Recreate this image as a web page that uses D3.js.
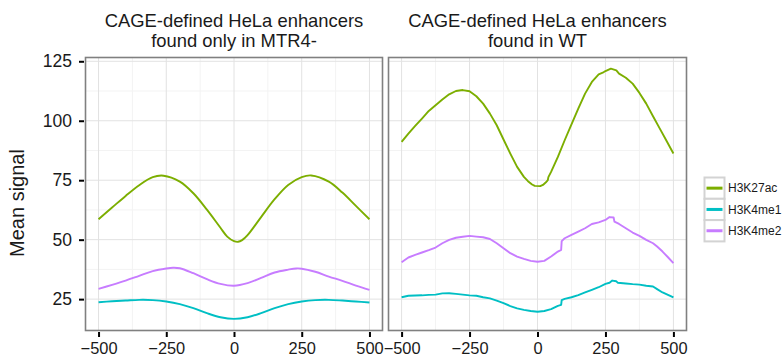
<!DOCTYPE html>
<html>
<head>
<meta charset="utf-8">
<script src="https://cdn.jsdelivr.net/npm/d3@7"></script>
<style>
  body { margin: 0; background: #fff; }
  svg { display: block; }
  text { font-family: "Liberation Sans", Arial, Helvetica, sans-serif; fill: #1a1a1a; }
</style>
</head>
<body>
<svg id="chart" width="782" height="360"></svg>
<script>
// Series and facet labels
const seriesNames = ["H3K27ac", "H3K4me1", "H3K4me2"];
const seriesColors = ["#7CAE00", "#00BFC4", "#C77CFF"];
const facetTitles = [
  ["CAGE-defined HeLa enhancers", "found only in MTR4-"],
  ["CAGE-defined HeLa enhancers", "found in WT"]
];
const xTicks = [-500, -250, 0, 250, 500];
const xMinor = [-375, -125, 125, 375];
const yTicks = [25, 50, 75, 100, 125];
const yMinor = [37.5, 62.5, 87.5, 112.5];

// Mean signal profiles, [position relative to enhancer centre (bp), mean signal]
// Enhancers found only in MTR4-
const h3k27acMtr4 = [[-500,58.6],[-450,63.5],[-400,68.4],[-350,72.9],[-300,76.3],[-260,76.9],[-200,74.4],[-150,69.5],[-100,62.6],[-50,55.0],[-25,51.3],[0,49.4],[15,49.1],[30,49.8],[50,51.9],[100,59.5],[150,67.0],[200,73.0],[250,76.3],[285,77.0],[350,74.4],[400,69.8],[450,64.2],[500,58.6]];
const h3k4me1Mtr4 = [[-500,23.7],[-450,24.1],[-400,24.4],[-350,24.7],[-300,24.6],[-250,24.0],[-200,22.9],[-150,21.2],[-100,19.1],[-50,17.4],[0,16.7],[50,17.4],[100,19.1],[150,21.2],[200,22.9],[250,24.0],[300,24.6],[350,24.7],[400,24.4],[450,24.0],[500,23.6]];
const h3k4me2Mtr4 = [[-500,29.3],[-450,31.0],[-400,32.8],[-350,34.8],[-300,36.8],[-250,37.9],[-225,38.2],[-200,38.0],[-150,35.9],[-100,33.4],[-50,31.4],[0,30.6],[50,31.7],[100,33.9],[150,36.2],[200,37.4],[230,37.9],[250,37.8],[300,36.5],[350,34.5],[400,32.7],[450,30.7],[500,28.9]];

// Enhancers found in WT
const h3k27acWt = [[-500,91.1],[-475,94.6],[-450,97.8],[-425,100.9],[-400,104.1],[-375,106.5],[-350,108.9],[-325,111.1],[-300,112.5],[-275,112.9],[-250,112.4],[-225,110.3],[-200,107.2],[-175,103.0],[-150,98.1],[-125,92.1],[-100,86.2],[-75,80.6],[-50,76.4],[-35,74.6],[-20,73.2],[-10,72.6],[10,72.5],[20,73.0],[30,74.0],[38,75.0],[40,76.3],[50,78.5],[75,84.8],[100,91.8],[125,98.5],[150,105.1],[175,111.4],[200,116.3],[225,119.5],[240,120.2],[250,120.9],[270,121.9],[290,121.2],[300,119.8],[325,118.1],[350,115.6],[375,111.7],[400,107.2],[425,101.9],[450,96.7],[475,91.5],[500,86.2]];
const h3k4me1Wt = [[-500,25.8],[-475,26.4],[-450,26.5],[-425,26.6],[-400,26.8],[-375,26.9],[-350,27.4],[-325,27.5],[-300,27.2],[-275,26.9],[-250,26.6],[-225,26.4],[-200,25.8],[-175,25.3],[-150,24.4],[-125,23.3],[-100,22.1],[-75,21.1],[-50,20.5],[-25,20.0],[0,19.7],[25,20.0],[50,20.8],[75,22.2],[87,22.6],[89,24.6],[100,25.1],[125,25.8],[150,26.7],[175,27.8],[200,28.9],[225,30.0],[250,31.4],[265,31.9],[275,32.8],[290,32.5],[295,31.9],[325,31.6],[350,31.3],[375,31.1],[400,30.6],[425,30.3],[440,29.2],[460,27.8],[480,26.8],[500,25.7]];
const h3k4me2Wt = [[-500,40.5],[-475,42.5],[-450,43.6],[-425,44.6],[-400,45.6],[-375,46.7],[-350,48.5],[-325,49.9],[-300,50.8],[-275,51.2],[-250,51.6],[-225,51.3],[-200,51.0],[-175,50.3],[-150,48.5],[-125,46.4],[-100,44.3],[-75,42.9],[-50,41.9],[-25,41.1],[0,40.7],[25,41.1],[50,42.9],[75,45.0],[87,45.7],[89,49.4],[100,50.6],[125,52.0],[150,53.4],[175,54.8],[200,56.6],[225,57.3],[250,58.3],[265,59.5],[280,59.3],[283,57.6],[300,56.6],[325,54.8],[350,53.0],[375,51.6],[400,49.9],[425,48.5],[440,47.1],[460,45.0],[480,42.6],[500,40.1]];

const facets = [
  { titles: facetTitles[0], series: [h3k27acMtr4, h3k4me1Mtr4, h3k4me2Mtr4], curve: d3.curveCatmullRom.alpha(0.5), left: 85, right: 383 },
  { titles: facetTitles[1], series: [h3k27acWt, h3k4me1Wt, h3k4me2Wt], curve: d3.curveLinear, left: 388, right: 687 }
];

const svg = d3.select("#chart");
const panelTop = 57, panelBottom = 331;
const y = d3.scaleLinear().domain([11.6, 126.8]).range([panelBottom, panelTop]);

facets.forEach(f => {
  const x = d3.scaleLinear().domain([-550, 550]).range([f.left, f.right]);
  const g = svg.append("g");

  // panel background and grid
  g.append("rect").attr("x", f.left).attr("y", panelTop)
    .attr("width", f.right - f.left).attr("height", panelBottom - panelTop).attr("fill", "#fff");
  g.selectAll(".ymin").data(yMinor).join("line")
    .attr("x1", f.left).attr("x2", f.right).attr("y1", d => y(d)).attr("y2", d => y(d))
    .attr("stroke", "#f3f3f3").attr("stroke-width", 1);
  g.selectAll(".xmin").data(xMinor).join("line")
    .attr("y1", panelTop).attr("y2", panelBottom).attr("x1", d => x(d)).attr("x2", d => x(d))
    .attr("stroke", "#f3f3f3").attr("stroke-width", 1);
  g.selectAll(".ymaj").data(yTicks).join("line")
    .attr("x1", f.left).attr("x2", f.right).attr("y1", d => y(d)).attr("y2", d => y(d))
    .attr("stroke", "#e2e2e2").attr("stroke-width", 1);
  g.selectAll(".xmaj").data(xTicks).join("line")
    .attr("y1", panelTop).attr("y2", panelBottom).attr("x1", d => x(d)).attr("x2", d => x(d))
    .attr("stroke", "#e2e2e2").attr("stroke-width", 1);

  // profiles
  const line = d3.line().x(d => x(d[0])).y(d => y(d[1])).curve(f.curve);
  f.series.forEach((s, si) => {
    g.append("path").datum(s).attr("d", line)
      .attr("fill", "none").attr("stroke", seriesColors[si])
      .attr("stroke-width", 1.9).attr("stroke-linejoin", "round");
  });

  // panel border
  g.append("rect").attr("x", f.left + 0.5).attr("y", panelTop + 0.5)
    .attr("width", f.right - f.left - 1).attr("height", panelBottom - panelTop - 1)
    .attr("fill", "none").attr("stroke", "#808080").attr("stroke-width", 1.6);

  // x axis
  const xAxis = d3.axisBottom(x).tickValues(xTicks).tickSize(5).tickPadding(4)
    .tickFormat(d => d < 0 ? "\u2212" + Math.abs(d) : String(d));
  const xa = svg.append("g").attr("transform", `translate(0,${panelBottom + 1})`).call(xAxis);
  xa.select(".domain").remove();
  xa.selectAll(".tick line").attr("stroke", "#000").attr("stroke-width", 2);
  xa.selectAll(".tick text").attr("font-size", 16.4).attr("fill", "#1a1a1a").attr("dy", "0.8em");

  // facet strip titles
  const cx = (f.left + f.right) / 2;
  g.append("text").attr("x", cx).attr("y", 26.7).attr("text-anchor", "middle")
    .attr("font-size", 18.4).text(f.titles[0]);
  g.append("text").attr("x", cx).attr("y", 47.3).attr("text-anchor", "middle")
    .attr("font-size", 18.4).text(f.titles[1]);
});

// y axis on the left facet
const yAxis = d3.axisLeft(y).tickValues(yTicks).tickSize(5).tickPadding(7);
const ya = svg.append("g").attr("transform", `translate(${facets[0].left - 1},0)`).call(yAxis);
ya.select(".domain").remove();
ya.selectAll(".tick line").attr("stroke", "#000").attr("stroke-width", 2);
ya.selectAll(".tick text").attr("font-size", 17.5).attr("fill", "#1a1a1a");

svg.append("text")
  .attr("transform", "translate(24,203) rotate(-90)")
  .attr("text-anchor", "middle").attr("font-size", 20).text("Mean signal");

// legend
const keyX = 704.5, keyTop = 177.5, keyW = 20, keyH = 21.3;
const lg = svg.append("g");
seriesNames.forEach((name, i) => {
  const ky = keyTop + i * keyH;
  lg.append("rect").attr("x", keyX).attr("y", ky).attr("width", keyW).attr("height", keyH)
    .attr("fill", "#fff").attr("stroke", "#d3d3d3").attr("stroke-width", 2);
  lg.append("line").attr("x1", keyX + 2).attr("x2", keyX + keyW - 2)
    .attr("y1", ky + keyH / 2).attr("y2", ky + keyH / 2)
    .attr("stroke", seriesColors[i]).attr("stroke-width", 3);
  lg.append("text").attr("x", keyX + keyW + 3.5).attr("y", ky + keyH / 2 + 4.3)
    .attr("font-size", 12).text(name);
});
</script>
</body>
</html>
